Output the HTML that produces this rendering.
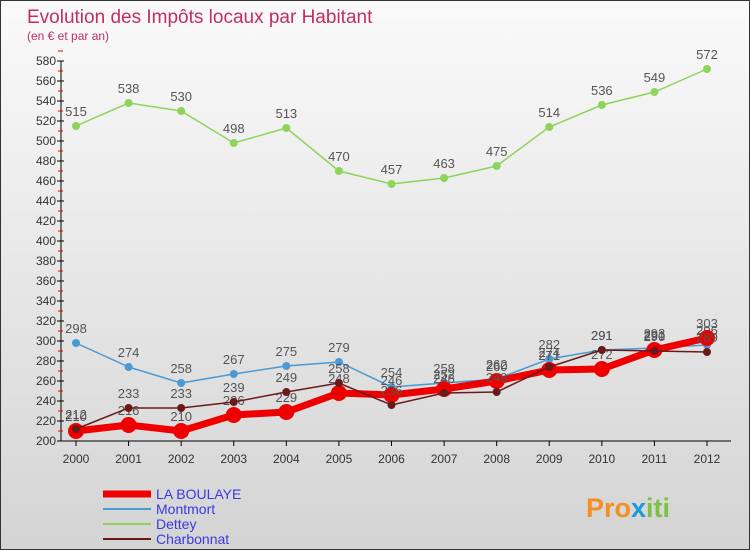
<!DOCTYPE html>
<html><head><meta charset="utf-8"><style>
body{margin:0;}
#c{width:750px;height:550px;position:relative;box-sizing:border-box;border:1px solid #333;background:linear-gradient(#fafafa,#d4d4d4);font-family:"Liberation Sans",sans-serif;overflow:hidden}
svg text{font-family:"Liberation Sans",sans-serif}
</style></head><body>
<div id="c">
<svg id="s" width="750" height="550">
<text x="26" y="22" font-size="19" fill="#c0305a">Evolution des Impôts locaux par Habitant</text>
<text x="26" y="39" font-size="12" fill="#c0305a">(en € et par an)</text>
<g id="ax"></g><g id="series"></g>
<text x="585" y="516" font-size="27" font-weight="bold" fill="#f39020">Pro<tspan fill="#1a9ad8">x</tspan><tspan fill="#7cc242">iti</tspan></text>
</svg>
</div>
<script>
const years=[2000,2001,2002,2003,2004,2005,2006,2007,2008,2009,2010,2011,2012];
const boulaye=[210,216,210,226,229,248,246,252,260,271,272,291,303];
const montmort=[298,274,258,267,275,279,254,258,262,282,291,293,296];
const dettey=[515,538,530,498,513,470,457,463,475,514,536,549,572];
const charbonnat=[212,233,233,239,249,258,236,248,249,274,291,290,289];
const yTicks=[200,220,240,260,280,300,320,340,360,380,400,420,440,460,480,500,520,540,560,580];
const NS="http://www.w3.org/2000/svg";
const X=i=>75+i*(706-75)/(years.length-1);
const Y=v=>440-(v-200)*(380/380);
function mk(t,a,p){const e=document.createElementNS(NS,t);for(const k in a)e.setAttribute(k,a[k]);p.appendChild(e);return e;}
const ax=document.getElementById('ax');
const yl=mk('line',{x1:60,y1:60,x2:60,y2:440,stroke:'#000'},ax);


const xl=mk('line',{x1:60,y1:440,x2:730,y2:440,stroke:'#000'},ax);


yTicks.forEach(v=>{
 mk('line',{x1:56,y1:Y(v),x2:63,y2:Y(v),stroke:'#000'},ax);
 mk('line',{x1:57,y1:Y(v)-10,x2:62,y2:Y(v)-10,stroke:'#e00'},ax);
 const t=mk('text',{x:55,y:Y(v)+4,'font-size':12,'text-anchor':'end',fill:'#333'},ax);t.textContent=v;
 
 
});
years.forEach((y,i)=>{
 mk('line',{x1:X(i),y1:440,x2:X(i),y2:445,stroke:'#000'},ax);
 const t=mk('text',{x:X(i),y:462,'font-size':12,'text-anchor':'middle',fill:'#333'},ax);t.textContent=y;
 
 
});
const sg=document.getElementById('series');
function draw(data,color,w,r,name){
 const g=mk('g',{},sg);
 
 
 mk('polyline',{points:data.map((v,i)=>X(i)+','+Y(v)).join(' '),fill:'none',stroke:color,'stroke-width':w},g);
 data.forEach((v,i)=>{
  const c=mk('circle',{cx:X(i),cy:Y(v),r:r,fill:color},g);
  
  
  const t=mk('text',{x:X(i),y:Y(v)-10,'font-size':13,'text-anchor':'middle',fill:'#555'},g);t.textContent=v;
  
  
 });
}
draw(dettey,'#8fd45a',1.5,4,'series-dettey');
draw(montmort,'#4a9ad4',1.5,4,'series-montmort');
draw(boulaye,'#ee0000',7,8,'series-la-boulaye');
draw(charbonnat,'#6a1a1a',1.5,4,'series-charbonnat');
const leg=[['LA BOULAYE','#ee0000',7],['Montmort','#4a9ad4',2],['Dettey','#8fd45a',2],['Charbonnat','#6a1a1a',2]];
const s=document.getElementById('s');
leg.forEach((l,i)=>{
 const y=493+i*15;
 const g=mk('g',{},s);
 
 
 mk('line',{x1:102,y1:y,x2:150,y2:y,stroke:l[1],'stroke-width':l[2]},g);
 const t=mk('text',{x:155,y:y+5,'font-size':14,fill:'#3a3ae0'},g);t.textContent=l[0];
});
</script>
</body></html>
